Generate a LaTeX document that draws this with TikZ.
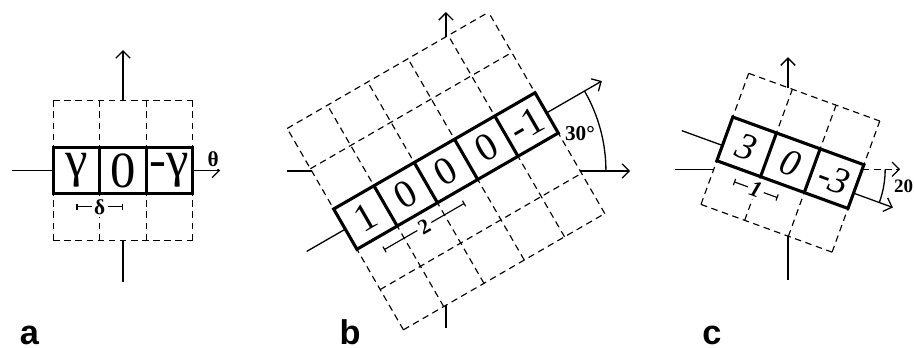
\documentclass[tikz,border=0pt]{standalone}
\usepackage{fontspec}
\setmainfont{Liberation Serif}
\setsansfont{Liberation Sans}
\newfontfamily\cellfont{Liberation Serif}
\usetikzlibrary{arrows.meta}

\tikzset{
  gridline/.style={line width=0.35pt, dash pattern=on 2pt off 1.4pt},
  cellbox/.style={line width=0.95pt},
  axis/.style={line width=0.4pt},
  axarrow/.style={axis, -{Straight Barb[length=2.2pt,width=4.4pt]}},
  span/.style={line width=0.35pt, {Bar[width=2pt]}-{Bar[width=2pt]}},
  spanlbl/.style={fill=white, inner sep=0.8pt, font=\cellfont\bfseries\fontsize{6.5}{7}\selectfont},
  anglbl/.style={inner sep=0pt, font=\cellfont\bfseries\fontsize{6.5}{8}\selectfont},
  panel/.style={anchor=base, inner sep=0pt, font=\sffamily\bfseries\fontsize{10.5}{12}\selectfont},
}

\begin{document}
\begin{tikzpicture}[scale=0.5]
  \useasboundingbox (0,0) rectangle (19.656,7.484);

  % panel a: unrotated kernel, 3x3 support
  \begin{scope}[shift={(2.645,3.817)}]
    \foreach \i in {-1.5,-0.5,...,1.5} {
      \draw[gridline] (\i,-1.5) -- (\i,1.5);
      \draw[gridline] (-1.5,\i) -- (1.5,\i);
    }
    \draw[cellbox] (-1.5,-0.5) rectangle (1.5,0.5);
    \foreach \i in {-0.5,0.5} \draw[cellbox] (\i,-0.5) -- (\i,0.5);
    \foreach \v [count=\k] in {γ,0,-γ}
      \node[font=\cellfont\fontsize{15.5}{17}\selectfont] (a\k) at (\k-2,0) {\v};
    \draw[axis] (-2.39,0) -- (-1.5,0);
    \draw[axarrow] (1.5,0) -- (2.09,0);
    \draw[axarrow] (0,1.5) -- (0,2.59);
    \draw[axis] (0,-1.5) -- (0,-2.40);
    \node[spanlbl] (th) at (1.94,0.24) {θ};
    \draw[span] (-1,-0.78) -- node[spanlbl] (dl) {δ} (0,-0.78);
  \end{scope}
  \node[panel] (pa) at (0.634,0.07) {a};

  % panel b: rotated 30 degrees, 5x5 support
  \begin{scope}[shift={(9.591,3.806)}]
    \draw[axis] (-3.42,0) -- (-2.887,0);
    \draw[axarrow] (2.887,0) -- (3.96,0);
    \draw[axarrow] (0,2.887) -- (0,3.42);
    \draw[axis] (0,-2.887) -- (0,-3.38);
    \draw[axis] (210:3.46) -- (210:2.5);
    \draw[axarrow] (30:2.5) -- (30:3.87);
    \draw[axis] (3.44,0) arc[start angle=0, end angle=30, radius=3.44];
    \node[anglbl] (ab) at (2.88,0.8) {30°};
    \begin{scope}[rotate=30]
      \foreach \i in {-2.5,-1.5,...,2.5} {
        \draw[gridline] (\i,-2.5) -- (\i,2.5);
        \draw[gridline] (-2.5,\i) -- (2.5,\i);
      }
      \draw[cellbox] (-2.5,-0.5) rectangle (2.5,0.5);
      \foreach \i in {-1.5,-0.5,...,1.5} \draw[cellbox] (\i,-0.5) -- (\i,0.5);
      \foreach \v [count=\k] in {1,0,0,0,-1}
        \node[rotate=30, font=\cellfont\fontsize{12}{14}\selectfont] (b\k) at (\k-3,0) {\v};
      \draw[span] (-2,-0.8) -- node[spanlbl, rotate=30] (tw) {2} (0,-0.8);
    \end{scope}
  \end{scope}
  \node[panel] (pb) at (7.527,0.07) {b};

  % panel c: rotated -20 degrees, shifted off the axes
  \begin{scope}[shift={(16.946,3.843)}]
    \draw[axis] (-2.43,0) -- (-1.596,0);
    \draw[gridline, -{Straight Barb[length=2.2pt,width=4.4pt]}] (1.61,0) -- (2.41,0);
    \draw[axarrow] (0,1.756) -- (0,2.41);
    \draw[axis] (0,-1.437) -- (0,-2.38);
    \draw[axis] (160:2.43) -- (160:1.5);
    \draw[axarrow] (-20:1.5) -- (-20:2.40);
    \draw[axis] (2.09,0) arc[start angle=0, end angle=-20, radius=2.09];
    \node[anglbl, anchor=west, font=\cellfont\bfseries\fontsize{5.8}{7}\selectfont] (ac) at (2.27,-0.36) {20°};
    \begin{scope}[rotate=-20, shift={(0,0.15)}]
      \foreach \i in {-1.5,-0.5,...,1.5} {
        \draw[gridline] (\i,-1.5) -- (\i,1.5);
        \draw[gridline] (-1.5,\i) -- (1.5,\i);
      }
      \draw[cellbox] (-1.5,-0.5) rectangle (1.5,0.5);
      \foreach \i in {-0.5,0.5} \draw[cellbox] (\i,-0.5) -- (\i,0.5);
      \foreach \v [count=\k] in {3,0,-3}
        \node[rotate=-20, font=\cellfont\itshape\fontsize{11.5}{13}\selectfont] (c\k) at (\k-2,0) {\v};
      \draw[span] (-1,-0.8) -- node[spanlbl, rotate=-20, font=\cellfont\bfseries\itshape\fontsize{7}{8}\selectfont] (on) {1} (0,-0.8);
    \end{scope}
  \end{scope}
  \node[panel] (pc) at (15.31,0.07) {c};
\end{tikzpicture}
\end{document}
